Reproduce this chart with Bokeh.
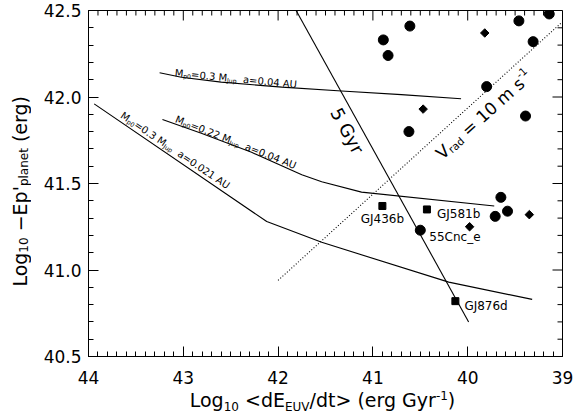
import math
import numpy as np
from bokeh.plotting import figure
from bokeh.models import Range1d, LinearAxis, SingleIntervalTicker, NumeralTickFormatter, Label, Div
from bokeh.layouts import row, column
from bokeh.embed import file_html
from bokeh.resources import INLINE

# ---------------- data ----------------
circle_x = [40.89, 40.84, 40.61, 39.46, 39.14, 39.31, 39.80, 39.39, 40.62, 39.65, 39.71, 39.58]
circle_y = [42.33, 42.24, 42.41, 42.44, 42.48, 42.32, 42.06, 41.89, 41.80, 41.42, 41.31, 41.34]
diamond_x = [39.82, 40.47, 39.98, 39.35]
diamond_y = [42.37, 41.93, 41.25, 41.32]
square_names = ["GJ436b", "GJ581b", "GJ876d"]
square_x = [40.90, 40.43, 40.13]
square_y = [41.37, 41.35, 40.82]
cnc_name = "55Cnc_e"
cnc_x = [40.50]
cnc_y = [41.23]

curve1_x = [43.25, 43.02, 42.60, 41.96, 41.33, 40.70, 40.07]
curve1_y = [42.14, 42.114, 42.086, 42.057, 42.035, 42.014, 41.99]
curve2_x = [43.22, 42.81, 42.28, 41.75, 41.54, 41.12, 39.72]
curve2_y = [41.87, 41.79, 41.68, 41.55, 41.51, 41.45, 41.37]
curve3_x = [43.94, 42.12, 41.54, 40.20, 39.32]
curve3_y = [41.96, 41.28, 41.16, 40.93, 40.83]
gyr5_x = [41.81, 39.99]
gyr5_y = [42.50, 40.70]
vrad_x = [42.00, 39.01]
vrad_y = [40.94, 42.43]

x_min, x_max = 44, 39
y_min, y_max = 40.5, 42.5

FONT = "DejaVu Sans"
W = {' ': 318, '!': 401, "'": 275, '(': 390, ')': 390, '-': 361, '.': 318, '/': 337, '0': 636, '1': 636,
     '2': 636, '3': 636, '4': 636, '5': 636, '6': 636, '7': 636, '8': 636, '9': 636, '<': 838, '=': 838,
     '>': 838, 'A': 684, 'C': 698, 'E': 632, 'G': 775, 'J': 295, 'L': 557, 'M': 863, 'U': 732, 'V': 684,
     '_': 500, 'a': 613, 'b': 635, 'c': 550, 'd': 635, 'e': 615, 'g': 635, 'l': 278, 'm': 974, 'n': 634,
     'o': 612, 'p': 635, 'r': 411, 's': 521, 't': 392, 'u': 634, 'y': 592, '\u2212': 838}


def tw(s):
    return sum(W.get(c, 600) for c in s) / 1000.0


FW, FH = 474, 346
p = figure(frame_width=FW, frame_height=FH, x_range=Range1d(x_min, x_max), y_range=Range1d(y_min, y_max),
           output_backend="svg", toolbar_location=None, x_axis_location=None, y_axis_location=None,
           min_border_left=47, min_border_right=13, min_border_top=10, min_border_bottom=35, margin=0)
p.grid.visible = False
p.outline_line_color = "black"
p.background_fill_color = "white"
p.border_fill_color = "white"

xax = LinearAxis(ticker=SingleIntervalTicker(interval=1, num_minor_ticks=10))
yax = LinearAxis(ticker=SingleIntervalTicker(interval=0.5, num_minor_ticks=5),
                 formatter=NumeralTickFormatter(format="0.0"))
p.add_layout(xax, "below")
p.add_layout(yax, "left")
for ax in [xax, yax]:
    ax.axis_line_color = "black"
    ax.major_tick_line_color = "black"
    ax.minor_tick_line_color = "black"
    ax.major_tick_in = 10
    ax.major_tick_out = 0
    ax.minor_tick_in = 5
    ax.minor_tick_out = 0
    ax.major_label_text_font = FONT
    ax.major_label_text_font_size = "17px"
    ax.major_label_text_color = "black"
xax.major_label_standoff = 14
yax.major_label_standoff = 7

# ticks on the top and right frame edges (inward)
px_per_x = FW / abs(x_max - x_min)
px_per_y = FH / abs(y_max - y_min)
tx = np.round(np.arange(39.0, 44.0001, 0.1), 1)
tx_len = np.where(np.abs(tx - np.round(tx)) < 1e-6, 10, 5) / px_per_y
p.segment(x0=tx, y0=np.full(len(tx), y_max), x1=tx, y1=y_max - tx_len, line_color="black", line_width=1)
ty = np.round(np.arange(40.5, 42.5001, 0.1), 1)
ty_len = np.where(np.abs(ty * 2 - np.round(ty * 2)) < 1e-6, 10, 5) / px_per_x
p.segment(x0=np.full(len(ty), x_max), y0=ty, x1=x_max + ty_len, y1=ty, line_color="black", line_width=1)

# ---------------- lines ----------------
p.line(curve1_x, curve1_y, line_color="black", line_width=1.1)
p.line(curve2_x, curve2_y, line_color="black", line_width=1.1)
p.line(curve3_x, curve3_y, line_color="black", line_width=1.1)
p.line(gyr5_x, gyr5_y, line_color="black", line_width=1.1)
p.line(vrad_x, vrad_y, line_color="black", line_width=1.1, line_dash="1 2")

# ---------------- markers ----------------
p.scatter(circle_x, circle_y, marker="circle", size=10, color="black")
p.scatter(cnc_x, cnc_y, marker="circle", size=10, color="black")
p.scatter(diamond_x, diamond_y, marker="square", angle=math.pi / 4, size=6, color="black")
p.scatter(square_x, square_y, marker="square", size=7, color="black")

# point labels
label_offsets = {"GJ436b": (0, -13, "center"), "GJ581b": (10, -5, "left"), "GJ876d": (9, -5, "left")}
for nm, xx, yy in zip(square_names, square_x, square_y):
    dx, dy, al = label_offsets[nm]
    p.add_layout(Label(x=xx, y=yy, x_offset=dx, y_offset=dy, text=nm, text_align=al, text_baseline="middle",
                       text_font=FONT, text_font_size="12px", text_color="black"))
p.add_layout(Label(x=cnc_x[0], y=cnc_y[0], x_offset=9, y_offset=-6.5, text=cnc_name, text_align="left",
                   text_baseline="middle", text_font=FONT, text_font_size="12px", text_color="black"))


# ---------------- rich text helper (inside the frame) ----------------
def rich(x, y, pieces, size, angle_deg=0.0):
    a = math.radians(angle_deg)
    d = 0.0
    for txt, kind in pieces:
        if kind == "n":
            fs, s = size, 0.0
        elif kind == "sub":
            fs, s = size * 0.62, -0.22 * size
        else:
            fs, s = size * 0.62, 0.38 * size
        lead = len(txt) - len(txt.lstrip(" "))
        d += lead * W[' '] / 1000.0 * fs
        core = txt.strip(" ")
        dx = d * math.cos(a) - s * math.sin(a)
        dy = d * math.sin(a) + s * math.cos(a)
        p.add_layout(Label(x=x, y=y, x_offset=dx, y_offset=dy, text=core, angle=a,
                           text_font=FONT, text_font_size=f"{fs:.1f}px", text_align="left",
                           text_baseline="alphabetic", text_color="black"))
        d += tw(core) * fs
        trail = len(txt) - len(txt.rstrip(" "))
        d += trail * W[' '] / 1000.0 * fs


rich(43.09, 42.14, [("M", "n"), ("p0", "sub"), ("=0.3 M", "n"), ("Jup", "sub"), ("  a=0.04 AU", "n")], 10, -5.5)
rich(43.08, 41.875, [("M", "n"), ("p0", "sub"), ("=0.22 M", "n"), ("Jup", "sub"), ("  a=0.04 AU", "n")], 10, -21.5)
rich(43.65, 41.90, [("M", "n"), ("p0", "sub"), ("=0.3 M", "n"), ("Jup", "sub"), ("  a=0.021 AU", "n")], 10, -34)
rich(41.395, 41.93, [("5 Gyr", "n")], 18, -61.5)
rich(40.308, 41.66, [("V", "n"), ("rad", "sub"), (" = 10 m s", "n"), ("-1", "sup")], 17, 42)

# ---------------- axis titles (HTML, real sub/superscripts) ----------------
SUB = "font-size:12px;vertical-align:-4px;line-height:0;"
SUP = "font-size:12px;vertical-align:7px;line-height:0;"
xtitle_html = (
    "<div style=\"width:534px;height:27px;box-sizing:border-box;padding-left:31px;text-align:center;"
    "font-family:'DejaVu Sans';font-size:19px;line-height:18px;white-space:nowrap;color:#000;\">"
    f"Log<span style=\"{SUB}\">10</span> &lt;dE<span style=\"{SUB}\">EUV</span>/dt&gt; (erg Gyr"
    f"<span style=\"{SUP}\">-1</span>)</div>"
)
ytitle_html = (
    "<div style=\"width:40px;height:383px;display:flex;align-items:center;justify-content:center;\">"
    "<span style=\"writing-mode:vertical-rl;transform:rotate(180deg);font-family:'DejaVu Sans';"
    "font-size:19px;line-height:18px;white-space:nowrap;color:#000;\">"
    f"Log<span style=\"{SUB}\">10</span> &minus;Ep'<span style=\"{SUB}\">planet</span> (erg)</span></div>"
)
xdiv = Div(text=xtitle_html, width=534, height=27, margin=0)
ydiv = Div(text=ytitle_html, width=40, height=383, margin=0)

layout = row(ydiv, column(p, xdiv, spacing=0, margin=0), spacing=0, margin=0)

open("out.html", "w").write(file_html(layout, INLINE))
